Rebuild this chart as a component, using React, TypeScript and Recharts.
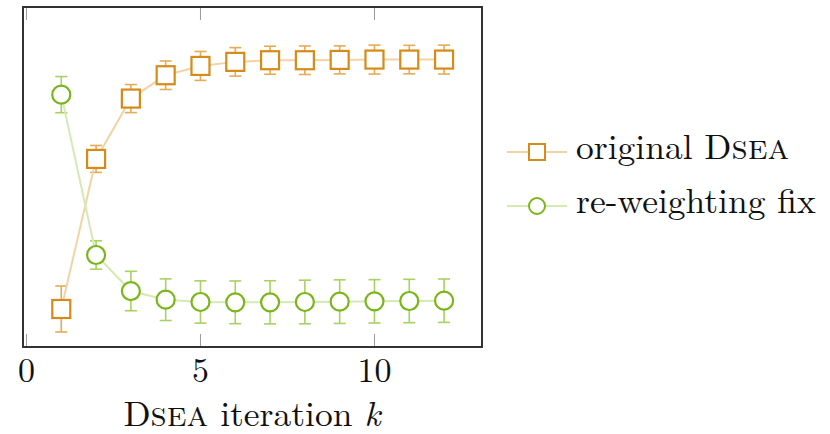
import { LineChart, Line, XAxis, YAxis, ErrorBar } from 'recharts'

// Werte (y-Achse ohne Beschriftung, Einheiten willkürlich)
const iterationen = [1, 2, 3, 4, 5, 6, 7, 8, 9, 10, 11, 12]
const originalDsea = [0.443, 1.813, 2.364, 2.577, 2.662, 2.699, 2.714, 2.714, 2.717, 2.72, 2.72, 2.72]
const originalDseaFehler = [0.21, 0.123, 0.128, 0.13, 0.132, 0.13, 0.128, 0.13, 0.128, 0.132, 0.13, 0.132]
const reweightingFix = [2.4, 0.936, 0.607, 0.528, 0.507, 0.504, 0.504, 0.507, 0.51, 0.513, 0.516, 0.519]
const reweightingFixFehler = [0.165, 0.13, 0.18, 0.19, 0.193, 0.195, 0.197, 0.199, 0.199, 0.198, 0.198, 0.198]

const xTicks = [0, 5, 10]
const yTicks = [1, 2, 3]

const FONT = '"Latin Modern Roman", "Liberation Serif", serif'
const W = 830
const H = 434
const PLOT_LEFT = 23
const PLOT_RIGHT = 482
const PLOT_TOP = 7
const PLOT_BOTTOM = 347
const TICK_LEN = 13

const ORANGE = '#d68a17'
const ORANGE_LINE = '#f2d3a6'
const ORANGE_ERR = '#e6ab55'
const GREEN = '#7ab51a'
const GREEN_LINE = '#d5e9b3'
const GREEN_ERR = '#a9d162'

const textStil = { fontFamily: FONT, fontSize: 35.5, fill: '#111' }
// echte Kapitälchen wie im LaTeX-Original (\textsc{Dsea})
const kapitaelchen = { fontFamily: '"Latin Modern Roman Caps", "Latin Modern Roman", serif' }

const daten = iterationen.map((k, i) => ({
  k,
  orig: originalDsea[i],
  origErr: originalDseaFehler[i],
  fix: reweightingFix[i],
  fixErr: reweightingFixFehler[i],
}))

function XTick({ x, payload }: { x?: number; payload?: { value: number } }) {
  return (
    <g>
      <line x1={x} x2={x} y1={PLOT_BOTTOM} y2={PLOT_BOTTOM - TICK_LEN} stroke="#9a9a9a" strokeWidth={1} />
      <line x1={x} x2={x} y1={PLOT_TOP} y2={PLOT_TOP + TICK_LEN} stroke="#9a9a9a" strokeWidth={1} />
      <text x={x} y={382} textAnchor="middle" style={{ ...textStil, fontSize: 34 }}>{payload?.value}</text>
    </g>
  )
}

function YTick({ y }: { y?: number }) {
  return (
    <g>
      <line x1={PLOT_LEFT} x2={PLOT_LEFT + TICK_LEN} y1={y} y2={y} stroke="#9a9a9a" strokeWidth={1} />
      <line x1={PLOT_RIGHT} x2={PLOT_RIGHT - TICK_LEN} y1={y} y2={y} stroke="#9a9a9a" strokeWidth={1} />
    </g>
  )
}

function Quadrat({ cx, cy, size = 18 }: { cx?: number; cy?: number; size?: number }) {
  if (cx == null || cy == null) return null
  return <rect x={cx - size / 2} y={cy - size / 2} width={size} height={size} fill="#fff" stroke={ORANGE} strokeWidth={2.2} />
}

function Kreis({ cx, cy, r = 9 }: { cx?: number; cy?: number; r?: number }) {
  if (cx == null || cy == null) return null
  return <circle cx={cx} cy={cy} r={r} fill="#fff" stroke={GREEN} strokeWidth={2.2} />
}

function Legende() {
  const zeilen = [
    { farbe: ORANGE_LINE, marker: <rect x={22} y={-8} width={16} height={16} fill="#fff" stroke={ORANGE} strokeWidth={2} />, label: <>original D<tspan style={kapitaelchen}>sea</tspan></>, y: 152 },
    { farbe: GREEN_LINE, marker: <circle cx={30} cy={0} r={8} fill="#fff" stroke={GREEN} strokeWidth={2} />, label: <>re-weighting fix</>, y: 206 },
  ]
  return (
    <g>
      {zeilen.map((z, i) => (
        <g key={i} transform={`translate(507, ${z.y})`}>
          <line x1={0} x2={60} y1={0} y2={0} stroke={z.farbe} strokeWidth={2} />
          {z.marker}
          <text x={69} y={7} style={textStil}>{z.label}</text>
        </g>
      ))}
    </g>
  )
}

export default function App() {
  return (
    <div style={{ position: 'absolute', left: 0, top: 0, width: W, height: H, background: '#fff' }}>
      <LineChart
        width={W} height={H} data={daten}
        margin={{ top: PLOT_TOP, left: PLOT_LEFT, right: W - PLOT_RIGHT, bottom: 0 }}
      >
        <XAxis
          dataKey="k" type="number" domain={[-0.1, 13.09]} ticks={xTicks}
          height={H - PLOT_BOTTOM} axisLine={false} tickLine={false} tick={<XTick />}
          allowDataOverflow interval={0}
        />
        <YAxis
          type="number" domain={[0.096, 3.2]} ticks={yTicks} width={0}
          axisLine={false} tickLine={false} tick={<YTick />} allowDataOverflow
        />
        <Line
          dataKey="orig" stroke={ORANGE_LINE} strokeWidth={2} isAnimationActive={false}
          dot={(p: any) => <Quadrat key={`o${p.index}`} cx={p.cx} cy={p.cy} />}
        >
          <ErrorBar dataKey="origErr" direction="y" width={6} stroke={ORANGE_ERR} strokeWidth={1.6} isAnimationActive={false} />
        </Line>
        <Line
          dataKey="fix" stroke={GREEN_LINE} strokeWidth={2} isAnimationActive={false}
          dot={(p: any) => <Kreis key={`g${p.index}`} cx={p.cx} cy={p.cy} />}
        >
          <ErrorBar dataKey="fixErr" direction="y" width={6} stroke={GREEN_ERR} strokeWidth={1.6} isAnimationActive={false} />
        </Line>
      </LineChart>
      <svg width={W} height={H} style={{ position: 'absolute', left: 0, top: 0, pointerEvents: 'none' }}>
        <rect x={PLOT_LEFT} y={PLOT_TOP} width={PLOT_RIGHT - PLOT_LEFT} height={PLOT_BOTTOM - PLOT_TOP} fill="none" stroke="#333" strokeWidth={2} />
        <Legende />
        <text x={252} y={426} textAnchor="middle" style={textStil}>
          D<tspan style={kapitaelchen}>sea</tspan> iteration <tspan fontStyle="italic">k</tspan>
        </text>
      </svg>
    </div>
  )
}
